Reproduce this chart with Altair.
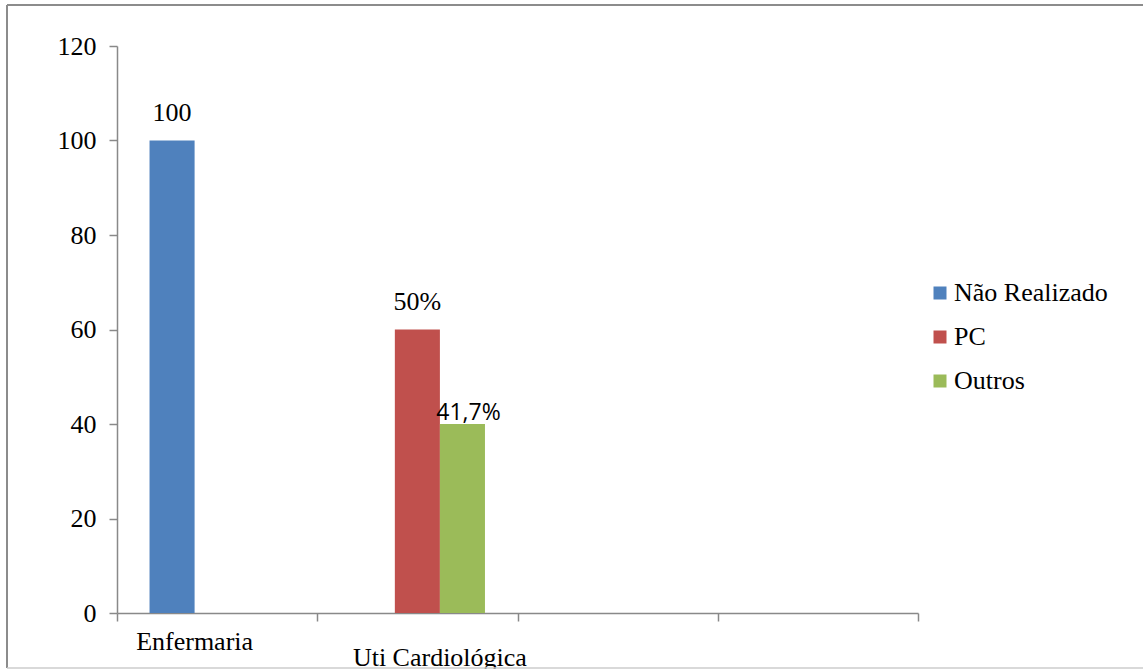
import altair as alt
import pandas as pd

# Bar data
categories = ["Enfermaria", "Uti Cardiológica", "Uti Cardiológica"]
series = ["Não Realizado", "PC", "Outros"]
values = [100, 60, 40]
bar_labels = ["100", "50%", "41,7%"]
label_styles = ["serif", "serif", "sans"]

# Axis setup
x_domain = ["Enfermaria", "Uti Cardiológica", "_c3", "_c4"]
series_order = ["Não Realizado", "PC", "Outros"]
series_colors = ["#4F81BD", "#C0504D", "#9BBB59"]
y_ticks = [0, 20, 40, 60, 80, 100, 120]

df = pd.DataFrame({
    "categoria": categories,
    "serie": series,
    "valor": values,
    "rotulo": bar_labels,
    "estilo": label_styles,
})

SERIF = "Liberation Serif"
SANS = "Open Sans"
AXIS_GRAY = "#898989"

# empty trailing bands get no label; the second label is dropped half a line
label_expr = (
    "datum.value == 'Enfermaria' ? datum.value : "
    "(datum.value == 'Uti Cardiológica' ? ['', datum.value] : '')"
)

x_enc = alt.X(
    "categoria:N",
    scale=alt.Scale(domain=x_domain, paddingInner=0, paddingOuter=0),
    axis=alt.Axis(
        title=None,
        labelAngle=0,
        tickBand="extent",
        labelExpr=label_expr,
        labelFont=SERIF,
        labelFontSize=26,
        labelColor="black",
        labelBaseline="top",
        labelLineHeight=16,
        labelPadding=7,
        labelOffset={"condition": {"test": "datum.value == 'Enfermaria'", "value": -23},
                     "value": 22},
        domainColor=AXIS_GRAY,
        domainWidth=1.5,
        tickColor=AXIS_GRAY,
        tickWidth=1.5,
        tickSize=8,
        grid=False,
    ),
)
xoff_enc = alt.XOffset(
    "serie:N",
    scale=alt.Scale(domain=series_order, paddingInner=0, paddingOuter=0.722),
)
y_enc = alt.Y(
    "valor:Q",
    scale=alt.Scale(domain=[0, 120], nice=False),
    axis=alt.Axis(
        title=None,
        values=y_ticks,
        labelFont=SERIF,
        labelFontSize=26,
        labelColor="black",
        labelPadding=13,
        domainColor=AXIS_GRAY,
        domainWidth=1.5,
        tickColor=AXIS_GRAY,
        tickWidth=1.5,
        tickSize=8,
        grid=False,
    ),
)

base = alt.Chart(df).encode(x=x_enc, xOffset=xoff_enc, y=y_enc)

bars = base.mark_bar().encode(
    color=alt.Color(
        "serie:N",
        scale=alt.Scale(domain=series_order, range=series_colors),
        legend=alt.Legend(
            title=None,
            orient="none",
            legendX=810,
            legendY=234,
            symbolType="square",
            symbolSize=169,
            symbolStrokeWidth=0,
            labelFont=SERIF,
            labelFontSize=26,
            labelColor="black",
            labelOffset=1,
            rowPadding=18,
        ),
    ),
)

serif_labels = base.transform_filter("datum.estilo == 'serif'").mark_text(
    font=SERIF, fontSize=26, color="black", baseline="alphabetic", dy=-20
).encode(text="rotulo:N")

sans_labels = base.transform_filter("datum.estilo == 'sans'").mark_text(
    font=SANS, fontSize=23, color="black", baseline="alphabetic", dy=-4, dx=6
).encode(text="rotulo:N")

# Outer frame lines around the figure
frame_df = pd.DataFrame({"k": [0]})
frame_top = alt.Chart(frame_df).mark_rule(color="#8c8c8c", strokeWidth=2).encode(
    x=alt.value(-110), x2=alt.value(1030), y=alt.value(-41), y2=alt.value(-41))
frame_left = alt.Chart(frame_df).mark_rule(color="#8c8c8c", strokeWidth=2).encode(
    x=alt.value(-110), x2=alt.value(-110), y=alt.value(-41), y2=alt.value(622))
frame_bottom = alt.Chart(frame_df).mark_rule(color="#cccccc", strokeWidth=1.5).encode(
    x=alt.value(-110), x2=alt.value(1030), y=alt.value(622), y2=alt.value(622))

chart = alt.layer(
    bars, serif_labels, sans_labels, frame_top, frame_left, frame_bottom
).properties(
    width=801,
    height=567,
    padding={"left": 117, "top": 46, "right": 225, "bottom": 56},
    autosize=alt.AutoSizeParams(type="none"),
    background="white",
).configure_view(stroke=None)

chart.save("out.html", embed_options={"renderer": "svg", "actions": False})
